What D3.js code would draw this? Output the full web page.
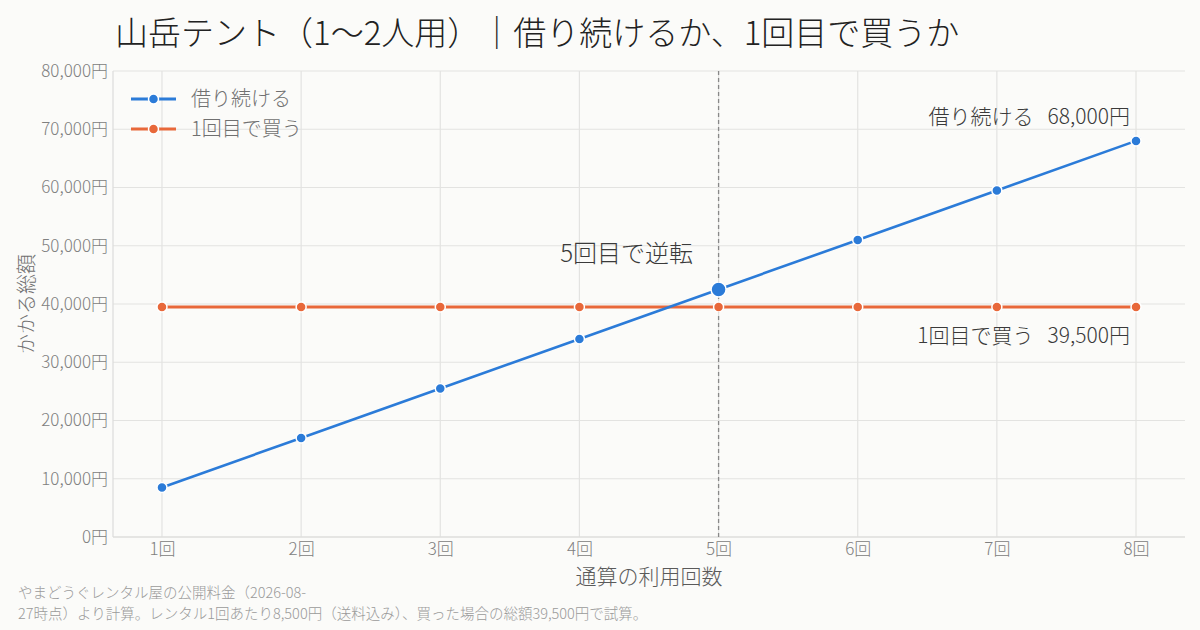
<!DOCTYPE html>
<html>
<head>
<meta charset="utf-8">
<script src="https://cdn.jsdelivr.net/npm/d3@7"></script>
<style>
  body { margin: 0; background: #fbfbf9; }
  svg { font-family: "Noto Sans CJK JP Light", "Noto Sans CJK JP DemiLight", "Noto Sans CJK JP", "Noto Sans", sans-serif; font-weight: 300; }
</style>
</head>
<body>
<svg id="chart" width="1200" height="630"></svg>
<script>
// data
const uses = [1, 2, 3, 4, 5, 6, 7, 8];
const rentTotal = [8500, 17000, 25500, 34000, 42500, 51000, 59500, 68000];
const buyTotal = [39500, 39500, 39500, 39500, 39500, 39500, 39500, 39500];
const seriesNames = ['借り続ける', '1回目で買う'];
const yTicks = [0, 10000, 20000, 30000, 40000, 50000, 60000, 70000, 80000];
const crossAt = 5;

var w = 1200, h = 630;
var pLeft = 113, pRight = 1185, pTop = 71, pBottom = 537;
var blue = '#2b7bd8', orange = '#e8683a';
var fam = '"Noto Sans CJK JP Light", "Noto Sans CJK JP DemiLight", "Noto Sans CJK JP", sans-serif';

var svg = d3.select('#chart');
svg.append('rect').attr('width', w).attr('height', h).attr('fill', '#fbfbf9');

var xs = d3.scaleLinear().domain([0.648, 8.352]).range([pLeft, pRight]);
var ys = d3.scaleLinear().domain([0, 80000]).range([pBottom, pTop]);

// grid
svg.append('g').selectAll('line')
  .data(yTicks).enter().append('line')
  .attr('x1', pLeft).attr('x2', pRight)
  .attr('y1', d => ys(d)).attr('y2', d => ys(d))
  .attr('stroke', '#e3e3e1').attr('stroke-width', 1.2);

svg.append('g').selectAll('line')
  .data(uses).enter().append('line')
  .attr('x1', d => xs(d)).attr('x2', d => xs(d))
  .attr('y1', pTop).attr('y2', pBottom)
  .attr('stroke', '#e3e3e1').attr('stroke-width', 1.2);

// left / bottom frame
svg.append('line').attr('x1', pLeft).attr('x2', pLeft).attr('y1', pTop).attr('y2', pBottom)
  .attr('stroke', '#dcdcda').attr('stroke-width', 1.2);
svg.append('line').attr('x1', pLeft).attr('x2', pRight).attr('y1', pBottom).attr('y2', pBottom)
  .attr('stroke', '#dcdcda').attr('stroke-width', 1.2);

// axes (labels only)
var yAxis = svg.append('g')
  .attr('transform', 'translate(' + pLeft + ',0)')
  .call(d3.axisLeft(ys).tickValues(yTicks).tickSize(0).tickPadding(5)
    .tickFormat(d => d3.format(',')(d) + '円'));
var xAxis = svg.append('g')
  .attr('transform', 'translate(0,' + pBottom + ')')
  .call(d3.axisBottom(xs).tickValues(uses).tickSize(0).tickPadding(6)
    .tickFormat(d => d + '回'));
[yAxis, xAxis].forEach(function(a) {
  a.select('.domain').remove();
  a.selectAll('text')
    .style('font-family', fam)
    .style('font-weight', 300)
    .style('font-size', '17px')
    .attr('fill', '#808080');
});

// crossover dashed line
svg.append('line')
  .attr('x1', xs(crossAt)).attr('x2', xs(crossAt))
  .attr('y1', pTop).attr('y2', pBottom)
  .attr('stroke', '#888').attr('stroke-width', 1.3)
  .attr('stroke-dasharray', '4,3');

// lines
var line = d3.line().x((d, i) => xs(uses[i])).y(d => ys(d));
svg.append('path').datum(buyTotal).attr('d', line)
  .attr('fill', 'none').attr('stroke', orange).attr('stroke-width', 3);
svg.append('path').datum(rentTotal).attr('d', line)
  .attr('fill', 'none').attr('stroke', blue).attr('stroke-width', 2.6);

// markers
svg.append('g').selectAll('circle')
  .data(buyTotal).enter().append('circle')
  .attr('cx', (d, i) => xs(uses[i])).attr('cy', d => ys(d))
  .attr('r', 5).attr('fill', orange).attr('stroke', '#fff').attr('stroke-width', 1.5);
svg.append('g').selectAll('circle')
  .data(rentTotal).enter().append('circle')
  .attr('cx', (d, i) => xs(uses[i])).attr('cy', d => ys(d))
  .attr('r', (d, i) => uses[i] === crossAt ? 7.5 : 5)
  .attr('fill', blue).attr('stroke', '#fff').attr('stroke-width', 1.5);

// legend
var leg = svg.append('g');
[blue, orange].forEach(function(c, i) {
  var y = 99 + i * 30;
  leg.append('line').attr('x1', 131).attr('x2', 176).attr('y1', y).attr('y2', y)
    .attr('stroke', c).attr('stroke-width', 3);
  leg.append('circle').attr('cx', 153.5).attr('cy', y).attr('r', 5)
    .attr('fill', c).attr('stroke', '#fff').attr('stroke-width', 1.5);
  leg.append('text').attr('x', 191).attr('y', y + 7)
    .style('font-size', '20px').attr('fill', '#707070')
    .text(seriesNames[i]);
});

// end labels
function endLabel(name, value, y) {
  var t = svg.append('text')
    .attr('x', xs(8) - 6).attr('y', y)
    .attr('text-anchor', 'end')
    .style('font-size', '21px').attr('fill', '#3a3a3a');
  t.append('tspan').text(name);
  t.append('tspan').attr('dx', 14).text(d3.format(',')(value) + '円');
}
endLabel(seriesNames[0], rentTotal[7], 124);
endLabel(seriesNames[1], buyTotal[7], 343);

// crossover label
svg.append('text')
  .attr('x', xs(crossAt) - 92).attr('y', 262)
  .attr('text-anchor', 'middle')
  .style('font-size', '24px').attr('fill', '#3a3a3a')
  .text(crossAt + '回目で逆転');

// title
svg.append('text')
  .attr('x', 115).attr('y', 45)
  .style('font-size', '33px').attr('fill', '#222')
  .text('山岳テント（1〜2人用）｜借り続けるか、1回目で買うか');

// axis titles
svg.append('text')
  .attr('x', (pLeft + pRight) / 2).attr('y', 584)
  .attr('text-anchor', 'middle')
  .style('font-size', '21px').attr('fill', '#5a5a5a')
  .text('通算の利用回数');
svg.append('text')
  .attr('transform', 'translate(34,' + ((pTop + pBottom) / 2) + ') rotate(-90)')
  .attr('text-anchor', 'middle')
  .style('font-size', '20px').attr('fill', '#707070')
  .text('かかる総額');

// footnote
svg.append('text').attr('x', 18).attr('y', 598)
  .style('font-size', '14.5px').attr('fill', '#9a9a9a')
  .text('やまどうぐレンタル屋の公開料金（2026-08-');
svg.append('text').attr('x', 18).attr('y', 619)
  .style('font-size', '14.5px').attr('fill', '#9a9a9a')
  .text('27時点）より計算。レンタル1回あたり8,500円（送料込み）、買った場合の総額39,500円で試算。');
</script>
</body>
</html>
